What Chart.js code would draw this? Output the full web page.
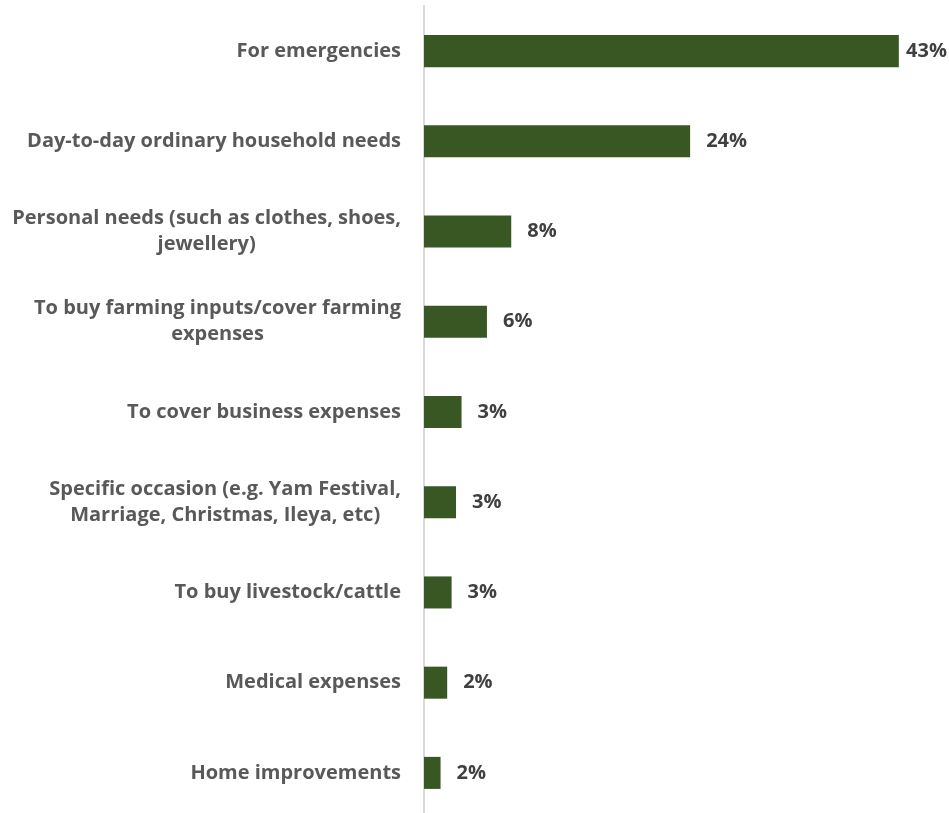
<!DOCTYPE html>
<html>
<head>
<meta charset="utf-8">
<script src="https://cdn.jsdelivr.net/npm/chart.js@4.4.1/dist/chart.umd.min.js"></script>
<style>
    html, body { margin: 0; padding: 0; background: #ffffff; overflow: hidden; }
    #wrap { position: relative; width: 949px; height: 818px; }
</style>
</head>
<body>
<div id="wrap"><canvas id="myChart"></canvas></div>
<script>
// reasons for saving, share of respondents (%)
const categories = [
    ['For emergencies'],
    ['Day-to-day ordinary household needs'],
    ['Personal needs (such as clothes, shoes,', 'jewellery)'],
    ['To buy farming inputs/cover farming', 'expenses'],
    ['To cover business expenses'],
    ['Specific occasion (e.g. Yam Festival,', 'Marriage, Christmas, Ileya, etc)'],
    ['To buy livestock/cattle'],
    ['Medical expenses'],
    ['Home improvements']
];
const shares = [43, 24.1, 7.9, 5.7, 3.4, 2.9, 2.5, 2.1, 1.5];

const barColor = '#385723';
const labelColor = '#595959';
const valueColor = '#404040';
const catFont = 'bold 20px "Open Sans", sans-serif';
const valFont = 'bold 20px "Open Sans", sans-serif';

// category names: right edge of each block at the same x, lines centred inside the block
const categoryLabels = {
    id: 'categoryLabels',
    afterDraw(chart) {
        const ctx = chart.ctx;
        const y = chart.scales.y;
        const right = chart.chartArea.left - 23;
        const lineH = 26;
        ctx.save();
        ctx.font = catFont;
        ctx.fillStyle = labelColor;
        ctx.textAlign = 'center';
        ctx.textBaseline = 'middle';
        categories.forEach((lines, i) => {
            const cy = y.getPixelForTick(i);
            const w = Math.max(...lines.map(l => ctx.measureText(l).width));
            const cx = right - w / 2;
            const top = cy - (lines.length - 1) * lineH / 2;
            lines.forEach((l, j) => ctx.fillText(l, cx, top + j * lineH));
        });
        ctx.restore();
    }
};

// percentage labels after the bar ends
const valueLabels = {
    id: 'valueLabels',
    afterDatasetsDraw(chart) {
        const ctx = chart.ctx;
        const meta = chart.getDatasetMeta(0);
        ctx.save();
        ctx.font = valFont;
        ctx.fillStyle = valueColor;
        ctx.textAlign = 'left';
        ctx.textBaseline = 'middle';
        meta.data.forEach((bar, i) => {
            const txt = Math.round(shares[i]) + '%';
            const w = ctx.measureText(txt).width;
            const x = Math.min(bar.x + 16, chart.width - w - 2);
            ctx.fillText(txt, x, bar.y);
        });
        ctx.restore();
    }
};

const ctx = document.getElementById('myChart').getContext('2d');
new Chart(ctx, {
    type: 'bar',
    data: {
        labels: categories,
        datasets: [{
            data: shares,
            backgroundColor: barColor,
            borderWidth: 0,
            categoryPercentage: 1,
            barPercentage: 0.355
        }]
    },
    options: {
        indexAxis: 'y',
        responsive: true,
        maintainAspectRatio: false,
        animation: false,
        layout: { padding: { top: 6, right: 6, bottom: 0, left: 0 } },
        scales: {
            x: {
                display: false,
                min: 0,
                max: 47
            },
            y: {
                grid: { display: false },
                border: { display: true, color: '#d9d9d9', width: 2 },
                ticks: { display: false },
                afterFit(scale) { scale.width = 424; }
            }
        },
        plugins: {
            legend: { display: false },
            tooltip: { enabled: false }
        }
    },
    plugins: [categoryLabels, valueLabels]
});
</script>
</body>
</html>
